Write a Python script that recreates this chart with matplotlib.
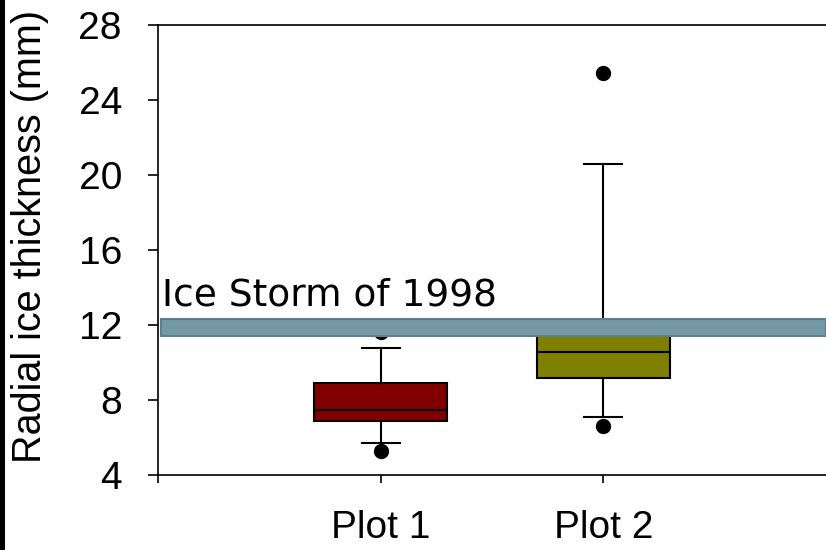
import matplotlib.pyplot as plt
from matplotlib.patches import Rectangle

plt.rcParams["font.family"] = ["Liberation Sans", "DejaVu Sans"]

# box statistics (mm)
plots = ["Plot 1", "Plot 2"]
medians = [7.45, 10.55]
q1 = [6.9, 9.15]
q3 = [8.9, 11.6]
whisker_low = [5.7, 7.1]
whisker_high = [10.8, 20.6]
outliers = [[5.3, 11.65], [6.6, 25.45]]
box_colors = ["#800000", "#808000"]

storm_low = 11.4
storm_high = 12.3
storm_label = "Ice Storm of 1998"

fig = plt.figure(figsize=(8.26, 5.5), dpi=100)
ax = fig.add_axes([158 / 826, 75 / 550, 668 / 826, 450 / 550])

stats = []
for i, name in enumerate(plots):
    stats.append({
        "label": name,
        "med": medians[i],
        "q1": q1[i],
        "q3": q3[i],
        "whislo": whisker_low[i],
        "whishi": whisker_high[i],
        "fliers": outliers[i],
    })

positions = list(range(1, len(plots) + 1))
bp = ax.bxp(stats, positions=positions, widths=0.6, patch_artist=True,
            boxprops=dict(edgecolor="black", linewidth=1.5),
            medianprops=dict(color="black", linewidth=1.5),
            whiskerprops=dict(color="black", linewidth=1.5),
            capprops=dict(color="black", linewidth=1.5),
            flierprops=dict(marker="o", markerfacecolor="black", markeredgecolor="black", markersize=10),
            capwidths=0.17)
for patch, c in zip(bp["boxes"], box_colors):
    patch.set_facecolor(c)

# storm band drawn over the boxes
ax.axhspan(storm_low, storm_high, xmin=0.004, xmax=1.0, facecolor="#7399a6",
           edgecolor="#5d7e8a", linewidth=1.5, zorder=5)
ax.text(0.02, storm_high + 0.3, storm_label, fontsize=27, family=["DejaVu Sans"],
        ha="left", va="bottom", zorder=6)

ax.set_xlim(0, 3)
ax.set_ylim(4, 28)
ax.set_yticks([4, 8, 12, 16, 20, 24, 28])
ax.set_xticks([0, 1, 2])
ax.set_xticklabels(["", plots[0], plots[1]])
ax.tick_params(axis="y", labelsize=28, length=7, width=1.2, pad=19)
ax.tick_params(axis="x", labelsize=28, length=6, width=1.2, pad=19)
ax.spines["right"].set_visible(False)
for s in ["left", "top", "bottom"]:
    ax.spines[s].set_linewidth(1.2)

ax.set_ylabel("Radial ice thickness (mm)", fontsize=28.5)
ax.yaxis.set_label_coords(-0.163, 0.53)

# black strip at the left edge of the slide
fig.patches.append(Rectangle((0, 0), 5 / 826, 1, transform=fig.transFigure,
                             facecolor="black", edgecolor="none"))

fig.savefig("out.png", dpi=100, facecolor="white")
